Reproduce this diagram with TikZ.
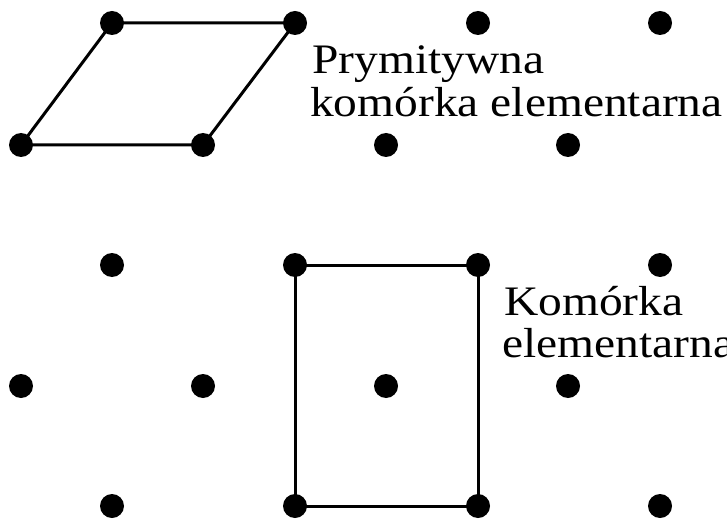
\documentclass[tikz,border=0pt]{standalone}
\usepackage{fontspec}
\setmainfont{Liberation Serif}[FakeStretch=1.13]
\begin{document}
\begin{tikzpicture}[x=1pt,y=-1pt,
  dot/.style={circle,fill=black,inner sep=0pt,minimum size=24pt},
  edge/.style={line width=3pt,black},
  lbl/.style={anchor=base west,inner sep=0pt,font=\fontsize{42}{43}\selectfont}]
\useasboundingbox (0,0) rectangle (727,521);
% row 1
\node[dot] (a1) at (112,23) {};
\node[dot] (a2) at (295,23) {};
\node[dot] (a3) at (478,23) {};
\node[dot] (a4) at (660,23) {};
% row 2
\node[dot] (b1) at (21,145) {};
\node[dot] (b2) at (203,145) {};
\node[dot] (b3) at (386,145) {};
\node[dot] (b4) at (568,145) {};
% row 3
\node[dot] (c1) at (112,265) {};
\node[dot] (c2) at (295,265) {};
\node[dot] (c3) at (478,265) {};
\node[dot] (c4) at (660,265) {};
% row 4
\node[dot] (d1) at (21,386) {};
\node[dot] (d2) at (203,386) {};
\node[dot] (d3) at (386,386) {};
\node[dot] (d4) at (568,386) {};
% row 5
\node[dot] (e1) at (112,506) {};
\node[dot] (e2) at (295,506) {};
\node[dot] (e3) at (478,506) {};
\node[dot] (e4) at (660,506) {};
% primitive cell
\draw[edge] (a1.center) -- (a2.center) -- (b2.center) -- (b1.center) -- cycle;
% conventional cell
\draw[edge] (c2.center) -- (c3.center) -- (e3.center) -- (e2.center) -- cycle;
% labels
\node[lbl] (t1) at (312,74) {Prymitywna};
\node[lbl] (t2) at (310,117) {komórka elementarna};
\node[lbl] (t3) at (504,315) {Komórka};
\node[lbl] (t4) at (502,357) {elementarna};
\end{tikzpicture}
\end{document}
